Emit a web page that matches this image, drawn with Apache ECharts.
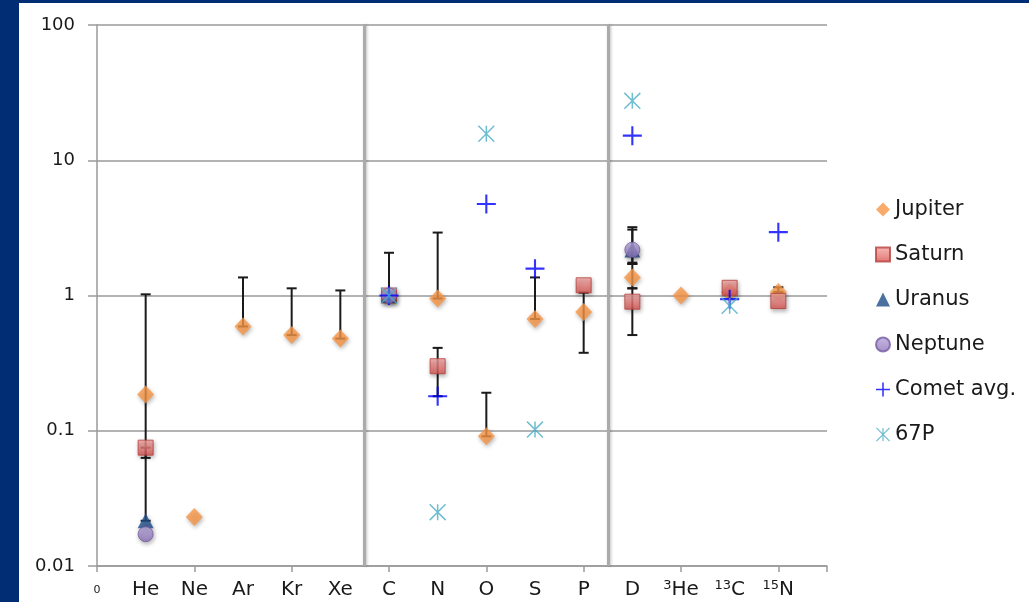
<!DOCTYPE html>
<html>
<head>
<meta charset="utf-8">
<title>Elemental and isotopic abundances</title>
<script src="https://cdn.jsdelivr.net/npm/echarts@6/dist/echarts.min.js"></script>
<style>
  html, body { margin: 0; padding: 0; background: #002d73; width: 1029px; height: 602px; overflow: hidden; }
  #chart { position: absolute; left: 19px; top: 3px; width: 1010px; height: 599px; background: #ffffff; }
</style>
</head>
<body>
<div id="chart"></div>
<script>
// Species along the x axis (positions 1..14); isotopes carry a mass number.
const categories  = ['He', 'Ne', 'Ar', 'Kr', 'Xe', 'C', 'N', 'O', 'S', 'P', 'D', 'He', 'C', 'N'];
const massNumbers = ['',   '',   '',   '',   '',   '',  '',  '',  '',  '',  '',  '3',  '13', '15'];

// Log-axis tick labels, from the bottom decade upward.
const yTickLabels = ['0.01', '0.1', '1', '10', '100'];

// Abundance ratios per species (null = not measured).
const jupiter  = [0.185, 0.023, 0.59, 0.51, 0.48, null, 0.95, 0.091, 0.67, 0.755, 1.36, 1.0, 1.06, 1.06];
const saturn   = [0.075, null,  null, null, null, 1.0,  0.30, null,  null, 1.19,  0.90, null, 1.14, 0.91];
const uranus   = [0.0216, null, null, null, null, 1.0,  null, null,  null, null,  2.17, null, null, null];
const neptune  = [0.0172, null, null, null, null, 1.0,  null, null,  null, null,  2.18, null, null, null];
const cometAvg = [null,  null,  null, null, null, 1.0,  0.18, 4.75,  1.58, null,  15.2, null, 0.94, 2.94];
const comet67P = [null,  null,  null, null, null, 1.0,  0.025, 15.7, 0.102, null, 27.5, null, 0.84, null];

// Error bars: [x position, lower value, upper value].
const errorBars = [
  [1, 0.0216, 1.02], [1, 0.063, 0.075],
  [3, 0.59, 1.36], [4, 0.51, 1.13], [5, 0.48, 1.09],
  [6, 1.0, 2.07],
  [7, 0.95, 2.92], [7, 0.18, 0.41],
  [8, 0.091, 0.191],
  [9, 0.67, 1.36],
  [10, 0.377, 1.05],
  [11, 1.71, 3.2], [11, 1.75, 3.07], [11, 1.13, 1.71], [11, 0.51, 1.13],
  [14, 1.06, 1.15]
];

// Group separators between noble gases / heavy elements / isotopes.
const separators = [5.5, 10.5];

const FONT = '"DejaVu Sans", "Liberation Sans", sans-serif';

// Build a filled path made of thin bars (for plus and star markers).
function strokesPath(segments, half) {
  let d = '';
  segments.forEach(function (s) {
    const x1 = s[0], y1 = s[1], x2 = s[2], y2 = s[3];
    const len = Math.hypot(x2 - x1, y2 - y1);
    const nx = -(y2 - y1) / len * half, ny = (x2 - x1) / len * half;
    const f = function (v) { return v.toFixed(3); };
    d += 'M' + f(x1 + nx) + ',' + f(y1 + ny) +
         ' L' + f(x2 + nx) + ',' + f(y2 + ny) +
         ' L' + f(x2 - nx) + ',' + f(y2 - ny) +
         ' L' + f(x1 - nx) + ',' + f(y1 - ny) + ' Z ';
  });
  return 'path://' + d.trim();
}
const plusSymbol = strokesPath([[0, -9, 0, 9], [-9, 0, 9, 0]], 1);
const starSymbol = strokesPath([[0, -8, 0, 8], [-8, -8, 8, 8], [-8, 8, 8, -8]], 0.75);

function toPoints(values) {
  return values.map(function (v, i) { return v == null ? null : [i + 1, v]; })
               .filter(function (p) { return p !== null; });
}

const markerShadow = { shadowBlur: 4, shadowColor: 'rgba(0,0,0,0.35)', shadowOffsetX: 1, shadowOffsetY: 2 };

function grad(top, bottom) {
  return { type: 'linear', x: 0, y: 0, x2: 0, y2: 1,
           colorStops: [{ offset: 0, color: top }, { offset: 1, color: bottom }] };
}

function renderErrorBar(params, api) {
  const x = api.value(0);
  const lo = api.coord([x, api.value(1)]);
  const hi = api.coord([x, api.value(2)]);
  const cap = 5;
  const style = { stroke: '#1a1a1a', lineWidth: 2 };
  return {
    type: 'group',
    children: [
      { type: 'line', shape: { x1: lo[0], y1: lo[1], x2: hi[0], y2: hi[1] }, style: style },
      { type: 'line', shape: { x1: hi[0] - cap, y1: hi[1], x2: hi[0] + cap, y2: hi[1] }, style: style },
      { type: 'line', shape: { x1: lo[0] - cap, y1: lo[1], x2: lo[0] + cap, y2: lo[1] }, style: style }
    ]
  };
}

function xLabel(v) {
  if (v === 0) return '{zero|0}';
  if (v >= 1 && v <= categories.length) {
    const m = massNumbers[v - 1];
    return (m ? '{sup|' + m + '}' : '') + '{el|' + categories[v - 1] + '}';
  }
  return '';
}

function yLabel(v) {
  const idx = Math.round(Math.log10(v)) + 2;
  return yTickLabels[idx] !== undefined ? yTickLabels[idx] : '';
}

const chart = echarts.init(document.getElementById('chart'), null, { renderer: 'canvas' });

chart.setOption({
  animation: false,
  backgroundColor: '#ffffff',
  textStyle: { fontFamily: FONT },
  grid: { left: 78, top: 22, width: 730, height: 541, containLabel: false },
  legend: {
    orient: 'vertical',
    left: 851,
    top: 191,
    itemWidth: 14,
    itemHeight: 14,
    itemGap: 24,
    textStyle: { fontFamily: FONT, fontSize: 21, color: '#1a1a1a', lineHeight: 20 },
    data: ['Jupiter', 'Saturn', 'Uranus', 'Neptune', 'Comet avg.', '67P']
  },
  xAxis: [
    {
      type: 'value', min: 0, max: 15, interval: 1, position: 'bottom',
      axisLine: { show: false }, axisTick: { show: false }, splitLine: { show: false },
      axisLabel: {
        margin: 13,
        formatter: xLabel,
        rich: {
          el:   { fontFamily: FONT, fontSize: 20, color: '#1a1a1a', lineHeight: 22 },
          sup:  { fontFamily: FONT, fontSize: 13, color: '#1a1a1a', lineHeight: 14, verticalAlign: 'top' },
          zero: { fontFamily: FONT, fontSize: 11, color: '#1a1a1a', lineHeight: 22 }
        }
      }
    },
    {
      type: 'value', min: 0, max: 15, interval: 2, position: 'bottom',
      axisLine: { show: true, lineStyle: { color: '#9a9a9a', width: 1.5 } },
      axisTick: { show: true, length: 6, lineStyle: { color: '#9a9a9a', width: 1.5 } },
      axisLabel: { show: false },
      splitLine: { show: false }
    }
  ],
  yAxis: {
    type: 'log', logBase: 10, min: 0.01, max: 100,
    axisLine: { show: true, lineStyle: { color: '#9a9a9a', width: 1.5 } },
    axisTick: { show: true, length: 9, lineStyle: { color: '#9a9a9a', width: 1.5 } },
    minorTick: { show: false },
    splitLine: { show: true, lineStyle: { color: '#9a9a9a', width: 1.5 } },
    axisLabel: { margin: 22, fontFamily: FONT, fontSize: 18, color: '#1a1a1a', formatter: yLabel }
  },
  series: [
    {
      name: 'errors', type: 'custom', z: 2, silent: true,
      renderItem: renderErrorBar,
      encode: { x: 0, y: [1, 2] },
      data: errorBars,
      markLine: {
        silent: true, symbol: 'none', animation: false,
        label: { show: false },
        lineStyle: { color: '#ababab', width: 3, type: 'solid',
                     shadowBlur: 3, shadowColor: 'rgba(0,0,0,0.25)', shadowOffsetX: 1 },
        data: separators.map(function (s) { return { xAxis: s }; })
      }
    },
    {
      name: 'Jupiter', type: 'scatter', z: 3, symbol: 'diamond', symbolSize: [17, 18],
      itemStyle: Object.assign({ color: '#F79646' }, markerShadow),
      data: toPoints(jupiter)
    },
    {
      name: 'Saturn', type: 'scatter', z: 3, symbol: 'rect', symbolSize: 15,
      itemStyle: Object.assign({ color: grad('#f5aaa8', '#d9524e'), borderColor: '#b5403c', borderWidth: 1 }, markerShadow),
      data: toPoints(saturn)
    },
    {
      name: 'Uranus', type: 'scatter', z: 3, symbol: 'triangle', symbolSize: [16, 15],
      itemStyle: Object.assign({ color: '#1F4E8A' }, markerShadow),
      data: toPoints(uranus)
    },
    {
      name: 'Neptune', type: 'scatter', z: 3, symbol: 'circle', symbolSize: 15,
      itemStyle: Object.assign({ color: grad('#b9a8dc', '#8c72b8'), borderColor: '#765ca3', borderWidth: 1 }, markerShadow),
      data: toPoints(neptune)
    },
    {
      name: 'Comet avg.', type: 'scatter', z: 3, symbol: plusSymbol, symbolSize: 19,
      itemStyle: { color: '#0000FF' },
      data: toPoints(cometAvg)
    },
    {
      name: '67P', type: 'scatter', z: 3, symbol: starSymbol, symbolSize: 17,
      itemStyle: { color: '#4BACC6' },
      data: toPoints(comet67P)
    }
  ]
});
</script>
</body>
</html>
